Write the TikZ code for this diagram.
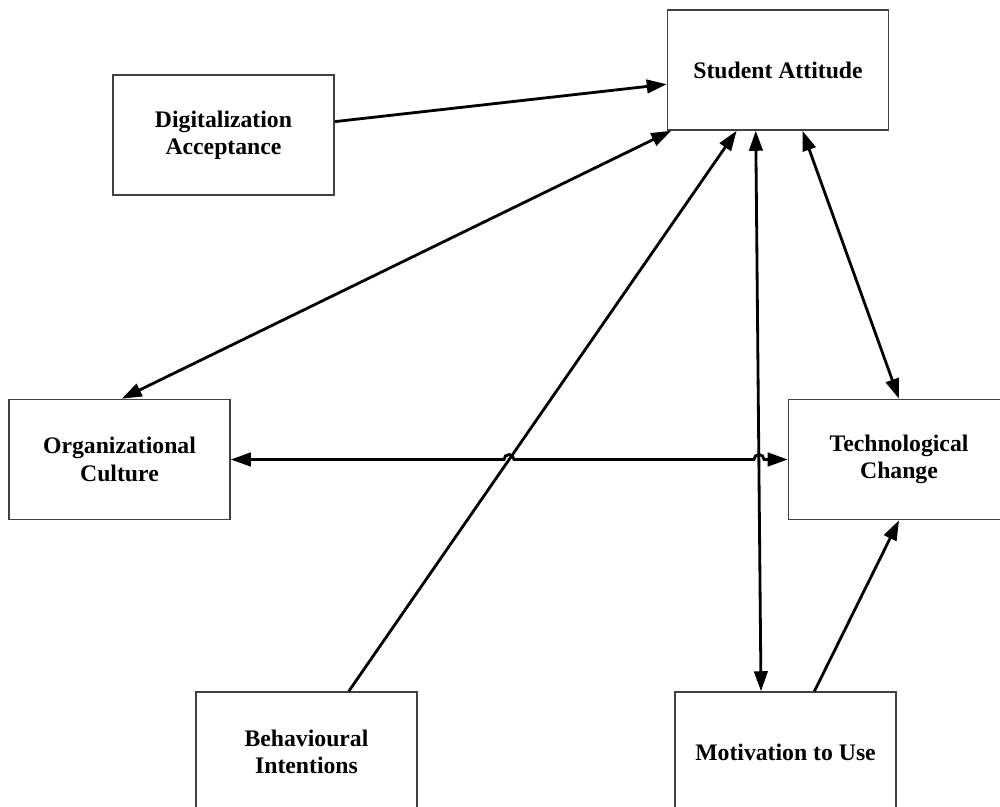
\documentclass[tikz,border=0pt]{standalone}
\usepackage{fontspec}
\setmainfont{Liberation Serif}
\usetikzlibrary{arrows.meta,calc}
\begin{document}
\begin{tikzpicture}[x=0.02cm,y=-0.02cm,
  >={Triangle[length=0.4cm,width=0.27cm]},
  box/.style={draw=black!75,line width=0.9pt,rectangle,minimum width=4.42cm,minimum height=2.4cm,inner sep=0pt,
    align=center,font=\fontsize{13.5}{15.5}\selectfont\bfseries},
  conn/.style={line width=1.6pt,black}]
\useasboundingbox (0,0) rectangle (1000,807);
\clip (0,0) rectangle (1000,807);
\fill[white] (0,0) rectangle (1000,807);
\node[box] (sa) at (778,70) {Student Attitude};
\node[box] (da) at (223.5,135) {Digitalization\\Acceptance};
\node[box] (oc) at (119.5,459.5) {Organizational\\Culture};
\node[box] (tc) at (899,459.5) {Technological\\Change};
\node[box] (bi) at (306.5,752) {Behavioural\\Intentions};
\node[box] (mu) at (785.5,752) {Motivation to Use};
% connectors
\draw[conn,->] ($(da.north east)!0.39!(da.south east)$) -- ($(sa.north west)!0.617!(sa.south west)$);
\draw[conn,<->] ($(sa.south west)!0.02!(sa.south east)$) -- ($(oc.north west)!0.51!(oc.north east)$);
\draw[conn,->] ($(bi.north west)!0.69!(bi.north east)$) -- ($(sa.south west)!0.314!(sa.south east)$);
\draw[conn,<->] ($(sa.south west)!0.4!(sa.south east)$) -- ($(mu.north west)!0.39!(mu.north east)$);
\draw[conn,<->] ($(sa.south west)!0.61!(sa.south east)$) -- (tc.north);
\draw[conn,->] ($(mu.north west)!0.63!(mu.north east)$) -- (tc.south);
\coordinate (hopa) at (504,459.5);
\coordinate (hopb) at (754,459.5);
\draw[conn,<->] (oc.east) -- (hopa) arc[start angle=180,end angle=0,radius=0.1cm]
  -- (hopb) arc[start angle=180,end angle=0,radius=0.1cm] -- (tc.west);
\end{tikzpicture}
\end{document}
